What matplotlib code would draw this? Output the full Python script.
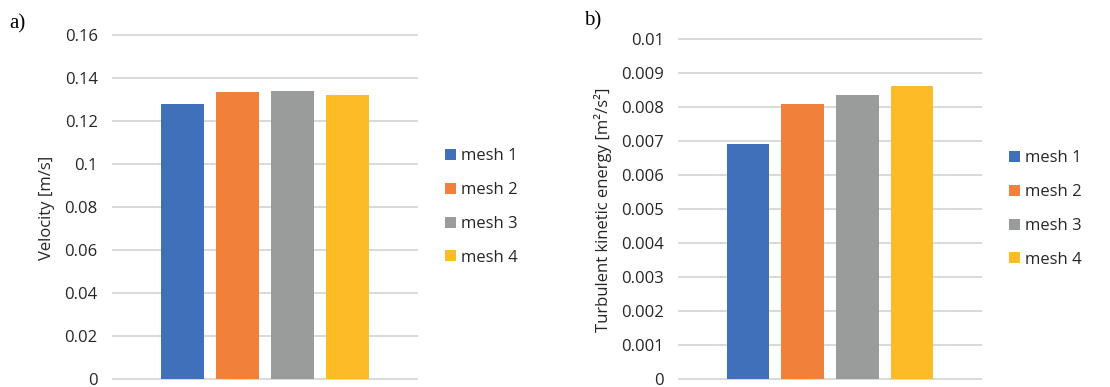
import matplotlib.pyplot as plt
import numpy as np

plt.rcParams["font.family"] = ["Open Sans", "DejaVu Sans"]

meshes = ["mesh 1", "mesh 2", "mesh 3", "mesh 4"]
colors = ["#3f70b9", "#f0803a", "#9a9c9c", "#fdbc26"]

velocity = [0.1278, 0.1335, 0.1340, 0.1320]
vel_ticks = [0, 0.02, 0.04, 0.06, 0.08, 0.10, 0.12, 0.14, 0.16]
vel_labels = ["0", "0.02", "0.04", "0.06", "0.08", "0.1", "0.12", "0.14", "0.16"]

tke = [0.00692, 0.00808, 0.00836, 0.00861]
tke_ticks = [0, 0.001, 0.002, 0.003, 0.004, 0.005, 0.006, 0.007, 0.008, 0.009, 0.010]
tke_labels = ["0", "0.001", "0.002", "0.003", "0.004", "0.005",
              "0.006", "0.007", "0.008", "0.009", "0.01"]

W, H = 1110, 387
FS = 12
TXT = "#262626"


def draw_panel(fig, rect, values, ticks, labels, ylabel, ylabel_xy, legend_xy, tag, tag_xy):
    ax = fig.add_axes(rect)
    x = np.arange(len(values)) - (len(values) - 1) / 2
    for xi, v, c, name in zip(x, values, colors, meshes):
        ax.bar(xi, v, width=0.78, color=c, label=name, zorder=3)
    ax.set_xlim(-2.76, 2.76)
    ax.set_ylim(ticks[0], ticks[-1])
    ax.set_yticks(ticks)
    ax.set_yticklabels(labels)
    ax.set_xticks([])
    ax.tick_params(axis="y", length=0, pad=11, labelsize=FS, labelcolor=TXT)
    ax.grid(axis="y", color="#d9d9d9", linewidth=1.4, clip_on=False)
    ax.set_axisbelow(True)
    for s in ax.spines.values():
        s.set_visible(False)
    fig.text(ylabel_xy[0] / W, 1 - ylabel_xy[1] / H, ylabel, rotation=90,
             ha="center", va="center", fontsize=FS, color=TXT)
    ax.legend(loc="center left", bbox_to_anchor=(legend_xy[0] / W, 1 - legend_xy[1] / H),
              bbox_transform=fig.transFigure, frameon=False, fontsize=FS,
              handlelength=0.65, handleheight=0.65, handletextpad=0.3,
              labelspacing=1.07, borderpad=0, borderaxespad=0, labelcolor=TXT)
    fig.text(tag_xy[0] / W, 1 - tag_xy[1] / H, tag, ha="left", va="center",
             fontsize=15, family="Liberation Serif")
    return ax


fig = plt.figure(figsize=(W / 100, H / 100), dpi=100)

draw_panel(fig, [113 / W, 1 - 379 / H, 304 / W, 344 / H], velocity, vel_ticks, vel_labels,
           "Velocity [m/s]", (47, 208), (445, 207), "a)", (9, 24))
draw_panel(fig, [679 / W, 1 - 379 / H, 302 / W, 340 / H], tke, tke_ticks, tke_labels,
           "Turbulent kinetic energy [m\u00b2/s\u00b2]", (603, 210), (1009, 209), "b)", (584, 21))

fig.savefig("out.png", dpi=100)
